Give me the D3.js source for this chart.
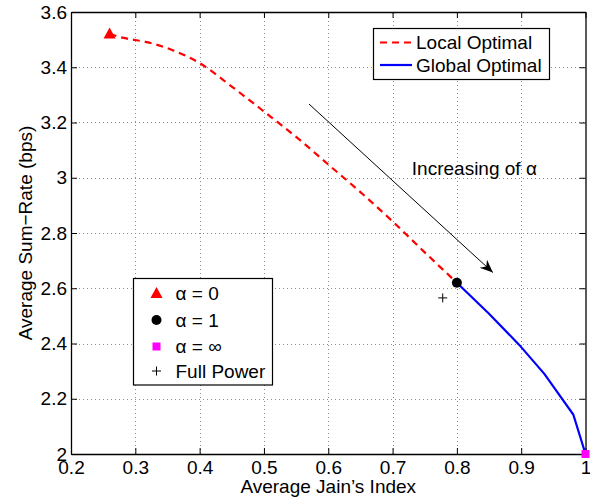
<!DOCTYPE html>
<html>
<head>
<meta charset="utf-8">
<script src="https://cdn.jsdelivr.net/npm/d3@7"></script>
<style>
  body { margin: 0; background: #fff; }
  svg text { font-family: "Liberation Sans", Arial, Helvetica, sans-serif; fill: #000; }
</style>
</head>
<body>
<svg id="chart"></svg>
<script>
// values
const localX = [0.26, 0.28, 0.32, 0.36, 0.40, 0.45, 0.50, 0.55, 0.60, 0.65, 0.70, 0.75, 0.80];
const localY = [3.52, 3.507, 3.49, 3.46, 3.415, 3.33, 3.24, 3.148, 3.048, 2.948, 2.842, 2.73, 2.62];
const globalX = [0.80, 0.85, 0.897, 0.936, 0.981, 1.0];
const globalY = [2.62, 2.508, 2.395, 2.29, 2.143, 2.0];
const alpha0 = [0.26, 3.52];
const alpha1 = [0.80, 2.62];
const alphaInf = [1.0, 2.0];
const fullPower = [0.778, 2.565];
const arrowFrom = [0.57, 3.267];
const arrowTo = [0.856, 2.657];
const xTicks = [0.2, 0.3, 0.4, 0.5, 0.6, 0.7, 0.8, 0.9, 1.0];
const xTickLabels = ["0.2", "0.3", "0.4", "0.5", "0.6", "0.7", "0.8", "0.9", "1"];
const yTicks = [2.0, 2.2, 2.4, 2.6, 2.8, 3.0, 3.2, 3.4, 3.6];
const yTickLabels = ["2", "2.2", "2.4", "2.6", "2.8", "3", "3.2", "3.4", "3.6"];

const width = 590, height = 497;
const margin = { top: 12, right: 4.5, bottom: 43, left: 71 };
const fontSize = "19px";

const svg = d3.select("#chart").attr("width", width).attr("height", height);

const x = d3.scaleLinear().domain([0.2, 1.0]).range([margin.left, width - margin.right]);
const y = d3.scaleLinear().domain([2.0, 3.6]).range([height - margin.bottom, margin.top]);

// grid
const grid = svg.append("g").attr("stroke", "#8c8c8c").attr("stroke-width", 1).attr("stroke-dasharray", "1,3");
grid.selectAll("line.gx").data(xTicks.slice(1, -1)).enter().append("line")
    .attr("x1", d => Math.round(x(d)) + 0.5).attr("x2", d => Math.round(x(d)) + 0.5)
    .attr("y1", y(2.0)).attr("y2", y(3.6));
grid.selectAll("line.gy").data(yTicks.slice(1, -1)).enter().append("line")
    .attr("y1", d => Math.round(y(d)) + 0.5).attr("y2", d => Math.round(y(d)) + 0.5)
    .attr("x1", x(0.2)).attr("x2", x(1.0));

// axes with inward ticks on all four sides
const tickLen = 6;
const axisBottom = svg.append("g").attr("transform", `translate(0,${y(2.0)})`)
    .call(d3.axisBottom(x).tickValues(xTicks).tickSizeInner(-tickLen).tickSizeOuter(0).tickPadding(7)
        .tickFormat((d, i) => xTickLabels[i]));
const axisTop = svg.append("g").attr("transform", `translate(0,${y(3.6)})`)
    .call(d3.axisTop(x).tickValues(xTicks).tickSizeInner(-tickLen).tickSizeOuter(0).tickFormat(""));
const axisLeft = svg.append("g").attr("transform", `translate(${x(0.2)},0)`)
    .call(d3.axisLeft(y).tickValues(yTicks).tickSizeInner(-tickLen).tickSizeOuter(0).tickPadding(4)
        .tickFormat((d, i) => yTickLabels[i]));
const axisRight = svg.append("g").attr("transform", `translate(${x(1.0)},0)`)
    .call(d3.axisRight(y).tickValues(yTicks).tickSizeInner(-tickLen).tickSizeOuter(0).tickFormat(""));

[axisBottom, axisTop, axisLeft, axisRight].forEach(a => {
  a.select(".domain").attr("stroke", "#000").attr("stroke-width", 1.3);
  a.selectAll(".tick line").attr("stroke", "#000");
  a.selectAll("text").style("font-size", fontSize).attr("fill", "#000");
});
axisBottom.selectAll(".tick text").attr("dy", "0.71em");

// axis labels
svg.append("text")
    .attr("x", (x(0.2) + x(1.0)) / 2).attr("y", 493)
    .attr("text-anchor", "middle").style("font-size", fontSize)
    .text("Average Jain\u2019s Index");
svg.append("text")
    .attr("transform", `translate(32,${(y(2.0) + y(3.6)) / 2}) rotate(-90)`)
    .attr("text-anchor", "middle").style("font-size", fontSize)
    .text("Average Sum\u2212Rate (bps)");

// curves
const line = d3.line().x(d => x(d[0])).y(d => y(d[1])).curve(d3.curveMonotoneX);
svg.append("path")
    .datum(localX.map((d, i) => [d, localY[i]]))
    .attr("d", line).attr("fill", "none")
    .attr("stroke", "#ff0000").attr("stroke-width", 2.2).attr("stroke-dasharray", "7,5");
svg.append("path")
    .datum(globalX.map((d, i) => [d, globalY[i]]))
    .attr("d", line.curve(d3.curveLinear)).attr("fill", "none")
    .attr("stroke", "#0000ff").attr("stroke-width", 2.2);

// markers
function triangle(g, cx, cy, s) {
  g.append("path").attr("d", `M${cx},${cy - s * 0.6}L${cx + s * 0.55},${cy + s * 0.4}L${cx - s * 0.55},${cy + s * 0.4}Z`)
      .attr("fill", "#ff0000");
}
function dot(g, cx, cy, r) {
  g.append("circle").attr("cx", cx).attr("cy", cy).attr("r", r).attr("fill", "#000");
}
function square(g, cx, cy, s) {
  g.append("rect").attr("x", cx - s / 2).attr("y", cy - s / 2).attr("width", s).attr("height", s).attr("fill", "#ff00ff");
}
function plus(g, cx, cy, s) {
  g.append("path").attr("d", `M${cx - s / 2},${cy}H${cx + s / 2}M${cx},${cy - s / 2}V${cy + s / 2}`)
      .attr("stroke", "#000").attr("stroke-width", 1);
}
const marks = svg.append("g");
triangle(marks, x(alpha0[0]), y(alpha0[1]), 11);
dot(marks, x(alpha1[0]), y(alpha1[1]), 5);
square(marks, x(alphaInf[0]), y(alphaInf[1]), 8);
plus(marks, x(fullPower[0]), y(fullPower[1]), 9);

// arrow annotation
const ax1 = x(arrowFrom[0]), ay1 = y(arrowFrom[1]), ax2 = x(arrowTo[0]), ay2 = y(arrowTo[1]);
svg.append("line").attr("x1", ax1).attr("y1", ay1).attr("x2", ax2).attr("y2", ay2)
    .attr("stroke", "#000").attr("stroke-width", 1);
{
  const ang = Math.atan2(ay2 - ay1, ax2 - ax1);
  const L = 13, W = 5.5, back = 9;
  const ux = Math.cos(ang), uy = Math.sin(ang), px = -uy, py = ux;
  const bx = ax2 - ux * L, by = ay2 - uy * L;
  const nx = ax2 - ux * back, ny = ay2 - uy * back;
  svg.append("path")
      .attr("d", `M${ax2},${ay2}L${bx + px * W},${by + py * W}L${nx},${ny}L${bx - px * W},${by - py * W}Z`)
      .attr("fill", "#000");
}
svg.append("text").attr("x", x(0.73)).attr("y", y(3.01))
    .style("font-size", fontSize).text("Increasing of \u03b1");

// legend: lines
const leg1 = svg.append("g");
leg1.append("rect").attr("x", 373.5).attr("y", 28.5).attr("width", 176).attr("height", 51)
    .attr("fill", "#fff").attr("stroke", "#000").attr("stroke-width", 1.2);
const leg1Items = [
  { label: "Local Optimal", color: "#ff0000", dash: "7,5" },
  { label: "Global Optimal", color: "#0000ff", dash: null }
];
leg1Items.forEach((d, i) => {
  const cy = 42.5 + i * 22.5;
  leg1.append("line").attr("x1", 380).attr("x2", 412).attr("y1", cy).attr("y2", cy)
      .attr("stroke", d.color).attr("stroke-width", 2.2).attr("stroke-dasharray", d.dash);
  leg1.append("text").attr("x", 416).attr("y", cy).attr("dy", "0.35em")
      .style("font-size", fontSize).text(d.label);
});

// legend: markers
const leg2 = svg.append("g");
leg2.append("rect").attr("x", 133.5).attr("y", 278.5).attr("width", 139).attr("height", 106.5)
    .attr("fill", "#fff").attr("stroke", "#000").attr("stroke-width", 1.2);
const leg2Labels = ["\u03b1 = 0", "\u03b1 = 1", "\u03b1 = \u221e", "Full Power"];
const leg2Draw = [
  (g, cx, cy) => triangle(g, cx, cy, 11),
  (g, cx, cy) => dot(g, cx, cy, 5),
  (g, cx, cy) => square(g, cx, cy, 8),
  (g, cx, cy) => plus(g, cx, cy, 9)
];
const leg2Y = [293.5, 320, 346.5, 371];
leg2Labels.forEach((label, i) => {
  leg2Draw[i](leg2, 156.5, leg2Y[i]);
  leg2.append("text").attr("x", 175.5).attr("y", leg2Y[i]).attr("dy", "0.35em")
      .style("font-size", fontSize).text(label);
});
</script>
</body>
</html>
